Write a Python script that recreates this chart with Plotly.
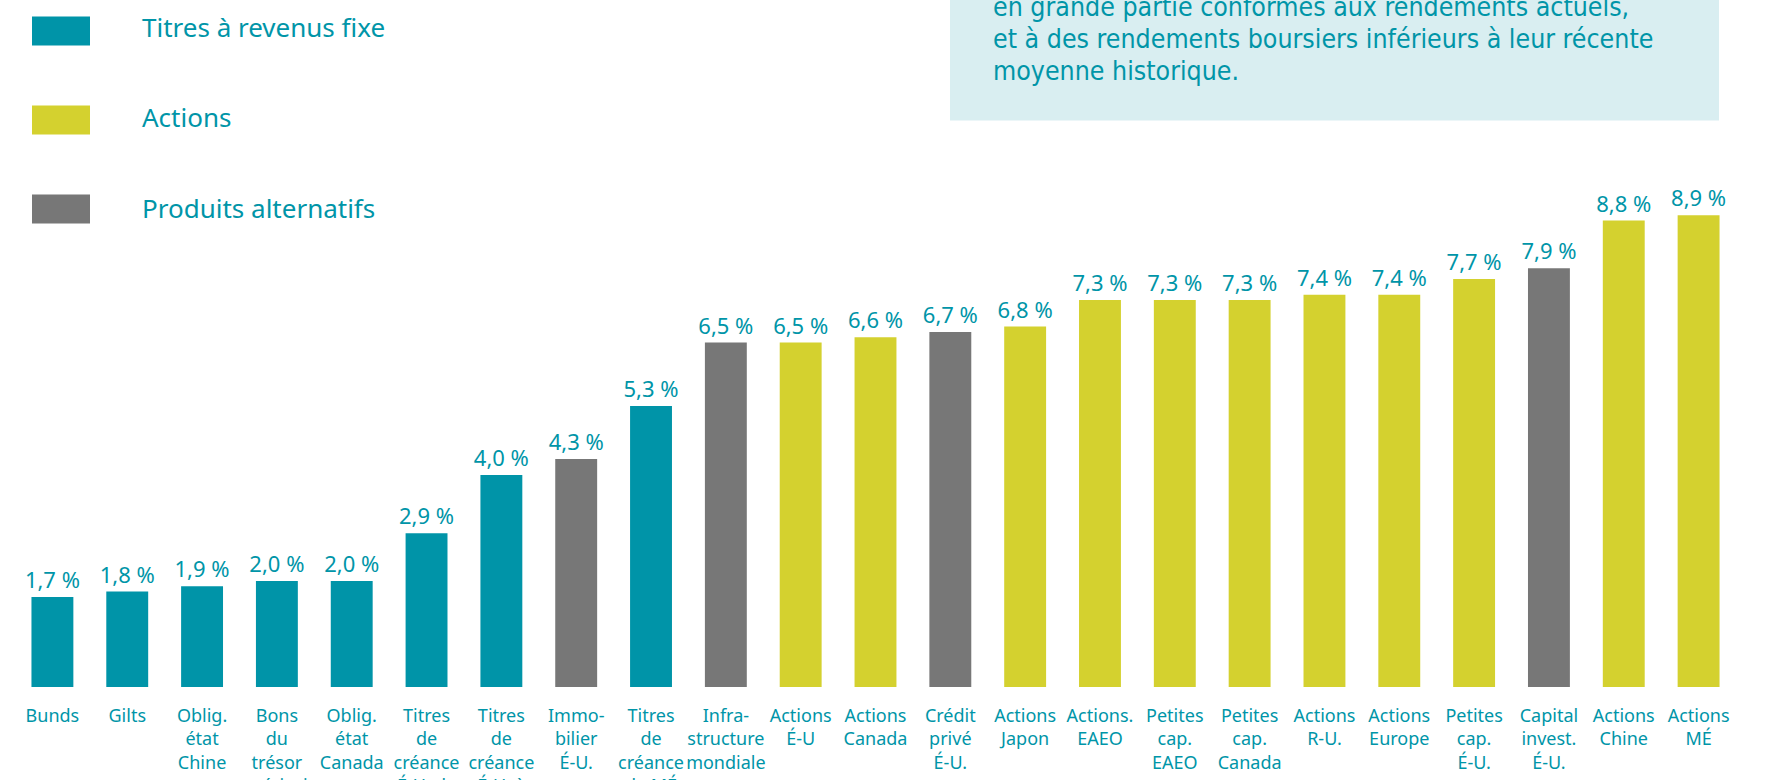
import plotly.graph_objects as go

categories = [
    "Bunds", "Gilts", "Oblig.<br>état<br>Chine", "Bons<br>du<br>trésor<br>américain",
    "Oblig.<br>état<br>Canada", "Titres<br>de<br>créance<br>É-U. de", "Titres<br>de<br>créance<br>É-U. à",
    "Immo-<br>bilier<br>É-U.", "Titres<br>de<br>créance<br>de MÉ", "Infra-<br>structure<br>mondiale",
    "Actions<br>É-U", "Actions<br>Canada", "Crédit<br>privé<br>É-U.", "Actions<br>Japon",
    "Actions.<br>EAEO", "Petites<br>cap.<br>EAEO", "Petites<br>cap.<br>Canada", "Actions<br>R-U.",
    "Actions<br>Europe", "Petites<br>cap.<br>É-U.", "Capital<br>invest.<br>É-U.", "Actions<br>Chine",
    "Actions<br>MÉ",
]
values = [1.7, 1.8, 1.9, 2.0, 2.0, 2.9, 4.0, 4.3, 5.3, 6.5, 6.5, 6.6, 6.7, 6.8,
          7.3, 7.3, 7.3, 7.4, 7.4, 7.7, 7.9, 8.8, 8.9]
groups = ["fixe", "fixe", "fixe", "fixe", "fixe", "fixe", "fixe", "alt", "fixe", "alt",
          "act", "act", "alt", "act", "act", "act", "act", "act", "act", "act", "alt", "act", "act"]
legend_keys = ["fixe", "act", "alt"]
legend_names = ["Titres à revenus fixe", "Actions", "Produits alternatifs"]
box_lines = [
    "en grande partie conformes aux rendements actuels,",
    "et à des rendements boursiers inférieurs à leur récente",
    "moyenne historique.",
]

COLORS = {"fixe": "#0094A8", "act": "#D4D12F", "alt": "#777777"}
TEXT = "#0095A8"
FONT = "Noto Sans, sans-serif"

W, H = 1766, 780
ML, MR, MT, MB = 15, 30, 0, 93
PW = W - ML - MR
PH = H - MT - MB
PX_PER = 53.0


def px(x):
    return (x - ML) / PW


def py(y):
    return (H - MB - y) / PH


labels = [f"{v:.1f}".replace(".", ",") + " %" for v in values]

fig = go.Figure()
fig.add_trace(go.Bar(
    x=categories, y=values,
    marker=dict(color=[COLORS[g] for g in groups], line=dict(width=0)),
    text=labels, textposition="outside", cliponaxis=False, constraintext="none",
    textfont=dict(family=FONT, size=22, color=TEXT),
    showlegend=False, hoverinfo="skip",
))

shapes = []
annotations = []
# info box
shapes.append(dict(type="rect", xref="paper", yref="paper", x0=px(950), x1=px(1719),
                   y0=py(120.5), y1=py(-20), fillcolor="#D9EEF1", line=dict(width=0), layer="below"))
for i, line in enumerate(box_lines):
    annotations.append(dict(xref="paper", yref="paper", x=px(991), y=py(7 + 31.5 * i),
                            xanchor="left", yanchor="middle", showarrow=False, text=line,
                            font=dict(family="Liberation Sans Narrow, DejaVu Sans Condensed, sans-serif",
                                      size=26.5, color=TEXT)))
# legend
for i, (k, name) in enumerate(zip(legend_keys, legend_names)):
    cy = 31 + 89 * i
    shapes.append(dict(type="rect", xref="paper", yref="paper", x0=px(32), x1=px(90),
                       y0=py(cy + 14.5), y1=py(cy - 14.5), fillcolor=COLORS[k], line=dict(width=0)))
    annotations.append(dict(xref="paper", yref="paper", x=px(140), y=py(cy - 4 + 1.5 * i),
                            xanchor="left", yanchor="middle", showarrow=False, text=name,
                            font=dict(family=FONT, size=26, color=TEXT)))

fig.update_layout(
    width=W, height=H,
    margin=dict(l=ML, r=MR, t=MT, b=MB, pad=0, autoexpand=False),
    paper_bgcolor="white", plot_bgcolor="white",
    bargap=0.44,
    shapes=shapes, annotations=annotations,
    xaxis=dict(type="category", showgrid=False, zeroline=False, showline=False, ticks="",
               tickfont=dict(family=FONT, size=18, color=TEXT), tickangle=0,
               ticklabelstandoff=16, automargin=False),
    yaxis=dict(range=[0, PH / PX_PER], visible=False, showgrid=False, zeroline=False,
               automargin=False),
    font=dict(family=FONT),
)

fig.write_html("out.html", config={"displayModeBar": False})
